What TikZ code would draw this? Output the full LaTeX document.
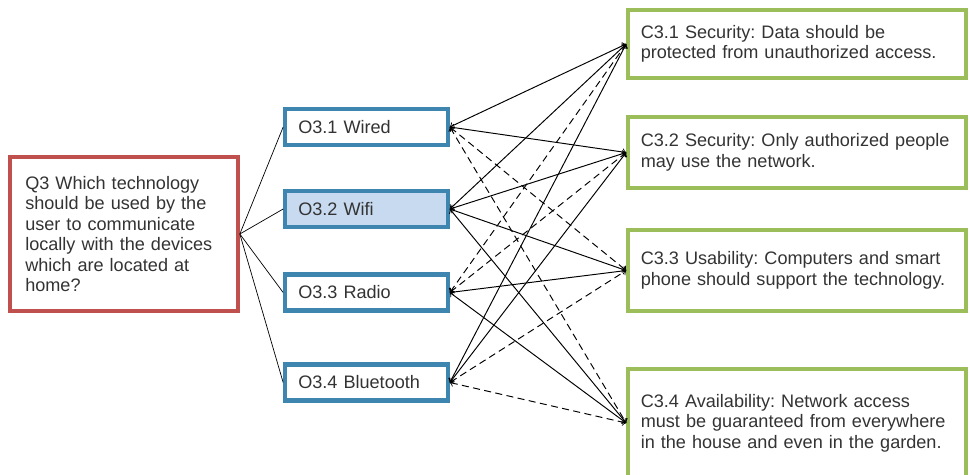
\documentclass[tikz,border=0pt]{standalone}
\usepackage{fontspec}
\setmainfont{Liberation Sans}
\usepackage{tikz}

\definecolor{qred}{RGB}{192,80,77}
\definecolor{oblue}{RGB}{62,134,176}
\definecolor{ofill}{RGB}{200,218,240}
\definecolor{cgreen}{RGB}{155,190,90}

\begin{document}
\begin{tikzpicture}[x=0.02cm,y=-0.02cm,
	box/.style={line width=2.4pt,align=left,text=black!80,
		font=\fontsize{10.3}{11.6}\selectfont\frenchspacing},
	question/.style={box,draw=qred,text width=3.95cm,inner xsep=0.3cm,minimum height=3.07cm},
	option/.style={box,draw=oblue,text width=2.73cm,inner xsep=0.26cm,minimum height=0.72cm},
	criterion/.style={box,draw=cgreen,text width=6.25cm,inner xsep=0.25cm},
	supports/.style={line width=0.55pt,<->,>=to},
	objects/.style={line width=0.55pt,<->,>=to,dash pattern=on 4pt off 2.5pt}]
	\useasboundingbox (0,0) rectangle (970,474);

	% question
	\node[question] (q3) at (124,234) {Q3 Which technology\\should be used by the\\user to communicate\\locally with the devices\\which are located at\\home?};

	% options
	\node[option] (o1) at (366.5,127) {O3.1 Wired};
	\node[option,fill=ofill] (o2) at (366.5,209) {O3.2 Wifi};
	\node[option] (o3) at (366.5,292.5) {O3.3 Radio};
	\node[option] (o4) at (366.5,382.5) {O3.4 Bluetooth};

	% criteria
	\node[criterion,minimum height=1.36cm] (c1) at (797,44) {C3.1 Security: Data should be\\protected from unauthorized access.};
	\node[criterion,minimum height=1.42cm] (c2) at (797,152.5) {C3.2 Security: Only authorized people\\may use the network.};
	\node[criterion,minimum height=1.62cm] (c3) at (797,270.5) {C3.3 Usability: Computers and smart\\phone should support the technology.};
	\node[criterion,minimum height=2.16cm] (c4) at (797,423) {C3.4 Availability: Network access\\must be guaranteed from everywhere\\in the house and even in the garden.};

	% question to options
	\draw (q3.east) -- (o1.west);
	\draw (q3.east) -- (o2.west);
	\draw (q3.east) -- (o3.west);
	\draw (q3.east) -- (o4.west);

	% wired
	\draw[supports] (o1.east) -- (c1.west);
	\draw[supports] (o1.east) -- (c2.west);
	\draw[objects] (o1.east) -- (c3.west);
	\draw[objects] (o1.east) -- (c4.west);
	% wifi
	\draw[supports] (o2.east) -- (c1.west);
	\draw[supports] (o2.east) -- (c2.west);
	\draw[supports] (o2.east) -- (c3.west);
	\draw[supports] (o2.east) -- (c4.west);
	% radio
	\draw[objects] (o3.east) -- (c1.west);
	\draw[objects] (o3.east) -- (c2.west);
	\draw[supports] (o3.east) -- (c3.west);
	\draw[supports] (o3.east) -- (c4.west);
	% bluetooth
	\draw[supports] (o4.east) -- (c1.west);
	\draw[supports] (o4.east) -- (c2.west);
	\draw[objects] (o4.east) -- (c3.west);
	\draw[objects] (o4.east) -- (c4.west);
\end{tikzpicture}
\end{document}
